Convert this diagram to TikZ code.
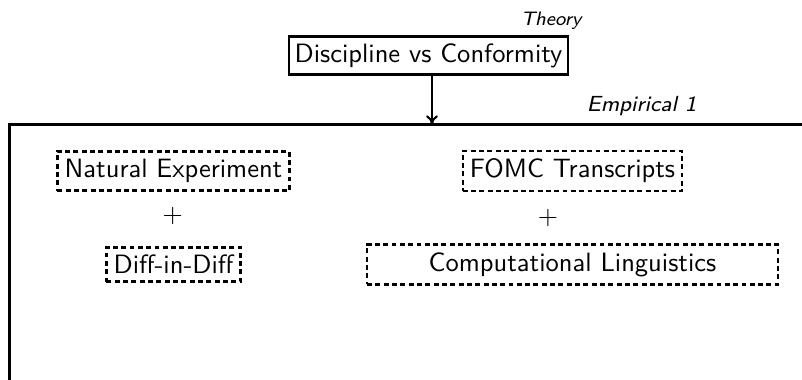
\documentclass[tikz,border=0pt]{standalone}
\usetikzlibrary{arrows.meta}
\begin{document}
\begin{tikzpicture}[x=0.3846pt,y=-0.3846pt,
  every node/.style={font=\sffamily\fontsize{10.2}{12}\selectfont},
  lab/.style={font=\sffamily\itshape\fontsize{8.4}{10}\selectfont, inner sep=0pt},
  solidbox/.style={draw, line width=0.95pt, inner xsep=2.2pt, inner ysep=2.7pt},
  dashbox/.style={draw, line width=0.9pt, dash pattern=on 1.9pt off 1.3pt, inner xsep=2.8pt, inner ysep=3pt},
  frameline/.style={line width=1.15pt},
  arr/.style={line width=0.8pt, -{To[length=3.5pt,width=4.5pt]}}]
\useasboundingbox (0,0) rectangle (802,380);
\clip (0,0) rectangle (802,380);
% theory
\node[lab, anchor=base east, font=\sffamily\itshape\fontsize{7.5}{9}\selectfont] (theory) at (582,26) {Theory};
\node[solidbox] (top) at (428.5,55.5) {Discipline vs Conformity};
% frame
\coordinate (fnw) at (9.5,124.5);
\coordinate (fse) at (1100,700);
\coordinate (ftop) at (432,124.5);
\draw[frameline] (fnw) rectangle (fse);
\node[lab, anchor=base east] (emp) at (697,112) {Empirical 1};
\draw[arr] (top.south -| ftop) -- (ftop);
% left column
\node[dashbox] (ne) at (173.5,171) {Natural Experiment};
\node[inner sep=0pt] (p1) at (172.7,216) {$+$};
\node[dashbox] (did) at (173.5,264.5) {Diff-in-Diff};
% right column
\node[dashbox] (fomc) at (572.5,171) {FOMC Transcripts};
\node[inner sep=0pt] (p2) at (548,218) {$+$};
\node[dashbox, minimum width=158pt] (cl) at (572.5,264.5) {Computational Linguistics};
\end{tikzpicture}
\end{document}
